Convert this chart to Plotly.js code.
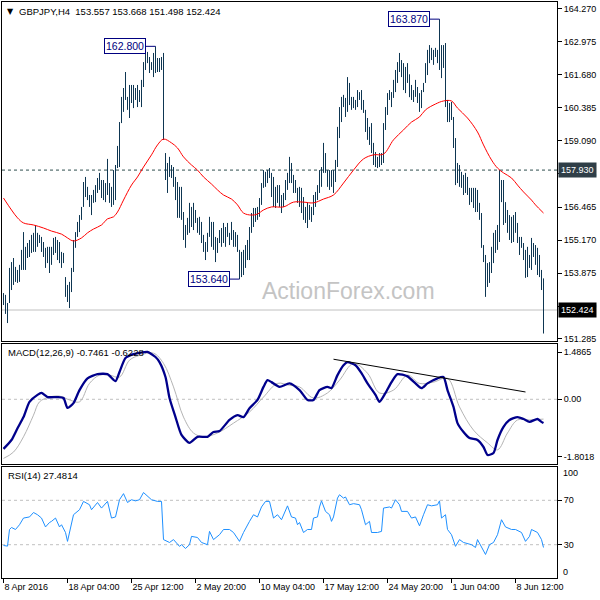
<!DOCTYPE html>
<html><head><meta charset="utf-8">
<script src="https://cdn.plot.ly/plotly-3.0.1.min.js"></script>
<style>html,body{margin:0;padding:0;background:#fff}#chart{width:600px;height:600px}</style>
</head><body><div id="chart"></div>
<script>
// ---- data (GBPJPY H4) ----
const highs = [
153.09,153.02,152.70,154.08,154.31,154.47,154.12,154.00,154.20,154.79,
155.49,154.91,155.06,155.18,155.38,155.46,155.77,155.46,155.38,155.30,
155.10,154.87,154.91,154.91,154.91,155.26,155.30,155.18,155.10,154.71,
154.67,153.72,153.41,153.53,154.08,155.18,155.49,155.89,156.16,156.48,
157.46,157.66,157.27,156.95,156.95,157.15,157.34,157.62,157.82,157.54,
157.54,157.42,158.37,157.42,157.27,157.93,158.13,158.88,159.82,160.81,
161.16,161.79,160.81,161.28,161.28,161.28,161.16,161.28,161.08,161.48,
162.18,162.54,162.58,162.38,162.18,162.54,162.80,162.34,162.34,162.38,
162.54,158.60,158.21,158.45,158.13,158.05,157.66,157.46,157.27,157.27,
156.28,155.77,156.05,156.64,156.48,156.64,156.36,156.05,156.09,155.89,
155.38,155.10,155.46,156.09,155.89,155.89,155.30,155.26,155.57,155.65,
155.85,155.69,155.85,155.46,155.89,155.57,155.49,155.38,154.79,154.71,
154.79,154.98,155.18,155.69,156.24,156.44,156.44,156.48,156.83,157.42,
157.93,157.86,157.93,158.01,157.82,157.66,157.27,157.34,157.34,156.95,
157.03,157.54,157.82,158.45,158.21,157.74,157.54,157.23,157.27,157.23,
156.87,156.48,156.64,156.56,156.48,156.95,157.07,157.34,157.93,158.05,
159.00,158.60,157.93,157.93,157.93,157.93,158.33,159.63,160.41,160.81,
160.89,160.77,161.59,161.36,160.81,160.81,160.69,161.08,161.00,161.08,
160.69,160.30,159.98,159.63,159.78,159.00,158.64,158.45,158.60,158.60,
159.78,160.41,160.96,161.08,161.00,161.48,161.87,162.18,162.54,162.26,
162.14,161.99,162.14,161.70,161.28,161.08,161.48,161.20,160.96,161.08,
161.36,162.14,162.66,162.85,162.74,162.66,162.74,162.66,163.87,162.85,
162.85,162.93,160.69,160.57,160.61,160.02,159.19,158.21,158.13,157.86,
157.74,157.82,157.66,157.23,157.23,157.23,157.23,157.15,156.64,156.24,
154.98,154.59,154.27,154.31,154.91,155.46,155.57,155.77,157.93,157.54,
157.54,156.67,156.36,156.16,156.09,156.16,156.28,155.85,155.30,155.30,
155.06,154.79,154.91,154.59,155.26,155.06,154.98,154.87,154.59,154.00,
153.668];
const lows = [
152.62,152.27,151.91,152.70,153.21,153.41,153.53,153.49,153.53,154.00,
154.00,154.00,154.47,154.51,154.67,154.71,154.71,154.91,155.06,154.71,
154.51,154.08,154.27,153.88,154.20,154.59,154.67,154.39,154.27,154.08,
154.27,152.94,152.74,152.50,153.13,153.92,154.87,155.30,155.49,155.97,
156.48,156.87,156.75,156.48,156.16,156.64,156.67,157.03,157.15,156.83,
156.75,156.67,156.95,156.64,156.48,156.56,156.75,158.01,158.05,159.78,
160.22,160.69,160.30,159.98,160.57,160.37,160.69,160.41,160.61,160.41,
161.20,161.87,162.14,161.75,161.87,161.59,161.75,161.79,161.79,161.87,
159.12,157.54,157.03,157.66,157.62,157.27,156.75,156.05,156.05,155.97,
155.18,154.87,155.38,155.46,155.69,155.57,155.85,155.46,155.38,155.06,
154.71,154.39,154.71,155.30,154.91,154.79,154.31,154.67,155.06,154.91,
155.06,154.91,155.30,154.98,155.18,154.91,154.91,154.71,153.64,153.72,
153.80,154.08,154.39,154.39,155.46,155.69,155.89,155.97,156.09,156.56,
157.23,157.27,157.42,157.62,156.87,156.48,156.44,156.64,156.48,156.24,
156.48,156.75,157.15,157.42,157.42,157.03,157.03,156.64,156.48,156.24,
155.97,155.85,155.65,155.97,155.89,156.16,156.48,156.75,157.03,157.27,
157.82,157.82,157.27,157.15,157.27,157.03,157.46,158.05,159.19,159.82,
160.41,160.02,160.22,160.49,160.30,160.37,160.30,160.41,160.69,160.30,
160.18,159.43,159.12,158.92,158.60,158.13,158.05,158.01,158.05,158.13,
158.21,159.51,160.10,160.69,160.41,160.77,161.00,161.36,161.79,161.59,
161.08,160.96,161.36,160.80,160.69,160.61,160.81,160.57,160.22,160.37,
161.00,161.36,161.67,162.14,162.26,162.07,162.38,162.14,161.87,161.55,
161.95,160.41,159.82,159.82,159.90,158.80,157.34,157.42,157.27,157.23,
156.95,157.03,156.95,156.56,156.67,156.44,156.28,156.28,155.97,154.87,
154.31,152.94,153.33,153.49,153.88,154.27,154.67,154.79,155.10,156.67,
155.77,155.85,155.46,155.18,155.06,155.10,155.46,155.06,154.59,154.87,
154.39,153.69,153.72,154.08,154.00,154.51,154.20,153.80,153.72,153.21,
151.498];

const maIdx  = [0,4,7,10,15,20,24,29,32,35,39,42,45,49,52,55,57,60,64,67,70,74,77,80,84,87,90,94,97,100,104,107,110,114,117,120,124,127,130,134,140,145,150,155,160,165,170,175,180,185,190,195,200,204,208,211,216,220,224,227,232,237,240,244,247,250,254,257,260,264,266,270];
const maVals = [156.83,156.36,156.05,155.85,155.77,155.65,155.53,155.41,155.26,155.14,155.26,155.46,155.61,155.77,156.01,156.09,156.28,156.75,157.34,157.66,158.05,158.53,158.92,159.15,159.00,158.80,158.45,158.13,157.93,157.66,157.38,157.15,156.95,156.79,156.56,156.24,156.16,156.20,156.36,156.48,156.48,156.67,156.67,156.64,156.79,156.95,157.42,157.93,158.37,158.53,158.56,159.12,159.51,159.82,160.02,160.30,160.53,160.65,160.65,160.37,159.98,159.43,158.92,158.33,158.01,157.82,157.62,157.34,157.07,156.75,156.56,156.24];

const macdIdx  = [0,4,7,10,13,17,19,22,27,30,32,35,38,42,47,52,56,58,61,65,68,72,76,78,81,83,86,89,93,97,102,105,108,113,117,120,123,127,130,132,134,138,143,148,152,155,158,162,164,167,170,172,176,179,182,186,188,191,194,197,202,206,209,212,217,220,222,225,227,230,233,237,240,242,245,247,250,253,257,260,263,267,269,270];
const macdVals = [-1.56,-1.28,-0.91,-0.56,-0.08,0.14,0.20,0.07,0.07,0.04,-0.27,-0.12,0.29,0.66,0.79,0.79,0.57,0.86,1.30,1.42,1.46,1.49,1.33,1.17,0.70,0.04,-0.56,-1.12,-1.37,-1.18,-1.18,-1.03,-1.00,-0.65,-0.50,-0.56,-0.28,-0.02,0.39,0.60,0.54,0.39,0.50,0.29,-0.02,-0.02,0.29,0.39,0.35,0.76,1.07,1.17,1.07,0.82,0.50,0.14,-0.08,0.20,0.54,0.79,0.72,0.50,0.35,0.50,0.66,0.70,0.29,-0.24,-0.75,-1.03,-1.22,-1.28,-1.50,-1.75,-1.69,-1.28,-0.87,-0.65,-0.56,-0.62,-0.71,-0.62,-0.71,-0.7461];

const sigIdx  = [0,5,10,15,18,23,28,33,38,43,48,53,58,63,68,75,80,85,90,95,100,107,115,123,130,137,143,148,155,162,168,175,182,188,195,202,208,215,222,228,235,242,247,252,257,263,270];
const sigVals = [-1.86,-1.66,-1.18,-0.50,-0.08,0.07,0.10,-0.02,-0.08,0.50,0.76,0.76,0.70,1.23,1.38,1.45,1.13,0.39,-0.56,-1.06,-1.18,-1.06,-0.75,-0.40,0.07,0.50,0.44,0.39,0.04,0.20,0.60,1.13,0.82,0.20,0.29,0.76,0.50,0.54,0.66,-0.24,-0.97,-1.37,-1.59,-1.06,-0.65,-0.65,-0.6228];

const rsiIdx  = [0,2,3,4,6,8,10,13,15,17,19,21,23,24,26,28,29,31,32,33,35,38,40,43,44,47,49,52,54,56,58,60,62,64,66,68,70,74,77,79,80,83,85,88,89,91,93,94,97,99,102,103,105,108,110,113,115,118,120,123,125,127,129,131,133,135,137,139,140,142,144,146,147,148,150,152,154,155,157,158,159,161,163,164,165,167,168,170,171,173,175,178,179,181,183,184,187,189,190,193,194,196,198,199,202,204,206,208,210,212,214,217,218,219,221,222,224,226,228,230,234,236,237,239,241,243,245,247,249,251,254,256,259,261,263,264,267,269,270];
const rsiVals = [29.3,28.7,43.7,45.5,43.7,48,54,55,59,57,54,46,50,51,54,46,48,41,33,42,57,61.5,69,66,61.5,68,63,69,54,55,70.5,76,68,70.5,69.5,70.5,77,70.5,69,69,34.6,32,34.6,28.5,30,26.6,30,37.5,36.5,32,30,42,34.6,39,43.7,43.7,41,33,41,51,57,55,64,69,69,54,57,52.5,57,65,55,54,48,50,41,43.7,43.7,54,55,64,69.5,60,57,51,55,72,75,72,73,66,67,66,61.5,48,51,41,41,42,63,64,63,70.5,66,60,60,54,55,47,57,66,65,66,69.5,54,57,43.7,39,28.5,34.6,32,30,27.5,34.6,27.5,21.2,30,32,39,52.5,46,43.7,43.7,41,33,37.5,43.7,41,34.6,27.4814];

const trendIdx  = [165, 261];
const trendVals = [1.26, 0.23];

const priceTicks = [164.270,162.975,161.680,160.385,159.090,157.795,156.465,155.170,153.875,152.580,151.285];
const macdTicks = [1.4865, 0, -1.8018];
const macdTickText = ['1.4865','0.00','-1.8018'];
const rsiTicks = [30, 70];
const rsiEdgeLabels = ['100', '0'];
const dateTickIdx = [0,32,64,96,128,160,192,224,256];
const dateTickLabels = ['8 Apr 2016','18 Apr 04:00','25 Apr 12:00','2 May 20:00','10 May 04:00','17 May 12:00','24 May 20:00','1 Jun 04:00','8 Jun 12:00'];
const swingIdx  = [76, 218, 118];
const swingVals = [162.800, 163.870, 153.640];
const levelPrice = 157.930;
const lastPrice = 152.424;
const headerText = 'GBPJPY,H4  153.557 153.668 151.498 152.424';
const macdText = 'MACD(12,26,9) -0.7461 -0.6228';
const rsiText = 'RSI(14) 27.4814';

// ---- build ----
const bx = [], by = [];
highs.forEach((h, i) => { bx.push(i, i, null); by.push(lows[i], h, null); });

const traces = [
  {type:'scatter', mode:'lines', x:bx, y:by, xaxis:'x', yaxis:'y', line:{color:'#0e3652', width:1}, hoverinfo:'skip', connectgaps:false},
  {type:'scatter', mode:'lines', x:maIdx, y:maVals, xaxis:'x', yaxis:'y', line:{color:'#ff0000', width:1, shape:'spline'}},
  {type:'scatter', mode:'lines', x:sigIdx, y:sigVals, xaxis:'x2', yaxis:'y2', line:{color:'#b4b4b4', width:1, shape:'spline'}},
  {type:'scatter', mode:'lines', x:macdIdx, y:macdVals, xaxis:'x2', yaxis:'y2', line:{color:'#00008b', width:2.3, shape:'spline', smoothing:0.6}},
  {type:'scatter', mode:'lines', x:trendIdx, y:trendVals, xaxis:'x2', yaxis:'y2', line:{color:'#000', width:1}},
  {type:'scatter', mode:'lines', x:rsiIdx, y:rsiVals, xaxis:'x3', yaxis:'y3', line:{color:'#1e90ff', width:1}}
];

const F = 'Liberation Sans, Arial, sans-serif';
const xBase = {showgrid:false, zeroline:false, showline:true, mirror:true, linecolor:'#000', linewidth:1, showticklabels:false, ticks:''};
const yBase = {showgrid:false, zeroline:false, showline:true, mirror:true, linecolor:'#000', linewidth:1, side:'right', ticks:'outside', ticklen:4, tickcolor:'#000', tickfont:{family:F, size:9, color:'#000'}, fixedrange:true};

const P = (px, py) => ({xref:'paper', yref:'paper', x:(px - 2) / 555, y:(578 - py) / 576});

const annotations = [
  Object.assign(P(5, 11), {text:'▼', showarrow:false, xanchor:'left', yanchor:'middle', font:{family:'DejaVu Sans, sans-serif', size:8, color:'#000'}}),
  Object.assign(P(17, 11), {text:headerText, showarrow:false, xanchor:'left', yanchor:'middle', font:{family:F, size:9.5, color:'#000'}}),
  Object.assign(P(6, 352), {text:macdText, showarrow:false, xanchor:'left', yanchor:'middle', font:{family:F, size:9.5, color:'#000'}}),
  Object.assign(P(6, 475), {text:rsiText, showarrow:false, xanchor:'left', yanchor:'middle', font:{family:F, size:9.5, color:'#000'}}),
  Object.assign(P(348, 291), {text:'ActionForex.com', showarrow:false, xanchor:'center', yanchor:'middle', font:{family:F, size:23, color:'#c4c4c4'}}),
  Object.assign(P(561, 473), {text:rsiEdgeLabels[0], showarrow:false, xanchor:'left', yanchor:'middle', font:{family:F, size:9, color:'#000'}}),
  Object.assign(P(561, 572), {text:rsiEdgeLabels[1], showarrow:false, xanchor:'left', yanchor:'middle', font:{family:F, size:9, color:'#000'}}),
  {xref:'paper', yref:'y', x:1, y:levelPrice, xanchor:'left', yanchor:'middle', xshift:1, text:levelPrice.toFixed(3), showarrow:false, bgcolor:'#2f3e47', borderpad:2, font:{family:F, size:9, color:'#fff'}},
  {xref:'paper', yref:'y', x:1, y:lastPrice, xanchor:'left', yanchor:'middle', xshift:1, text:lastPrice.toFixed(3), showarrow:false, bgcolor:'#000', borderpad:2, font:{family:F, size:9, color:'#fff'}}
];
swingIdx.forEach((ix, k) => {
  annotations.push({xref:'x', yref:'y', x:ix, y:swingVals[k], text:swingVals[k].toFixed(3), showarrow:true, arrowhead:0, arrowwidth:1, arrowcolor:'#000080', ax:-31, ay:0, standoff:0, bordercolor:'#000080', borderwidth:1, borderpad:1, bgcolor:'#fff', font:{family:F, size:10.5, color:'#000080'}});
});

const shapes = [
  {type:'line', xref:'paper', yref:'y', x0:0, x1:1, y0:levelPrice, y1:levelPrice, line:{color:'#2f4f4f', width:1, dash:'3px,3px'}, layer:'below'},
  {type:'line', xref:'paper', yref:'y', x0:0, x1:1, y0:lastPrice, y1:lastPrice, line:{color:'#c0c0c0', width:1}, layer:'below'},
  {type:'line', xref:'paper', yref:'y2', x0:0, x1:1, y0:0, y1:0, line:{color:'#c0c0c0', width:1, dash:'3px,3px'}, layer:'below'},
  {type:'line', xref:'paper', yref:'y3', x0:0, x1:1, y0:30, y1:30, line:{color:'#c0c0c0', width:1, dash:'3px,3px'}, layer:'below'},
  {type:'line', xref:'paper', yref:'y3', x0:0, x1:1, y0:70, y1:70, line:{color:'#c0c0c0', width:1, dash:'3px,3px'}, layer:'below'}
];

const layout = {
  width:600, height:600,
  margin:{l:2, r:43, t:2, b:22, pad:0},
  paper_bgcolor:'#fff', plot_bgcolor:'#fff',
  showlegend:false, hovermode:false,
  font:{family:F, size:9, color:'#000'},
  xaxis: Object.assign({}, xBase, {domain:[0,1], range:[-0.75, 276.75], anchor:'y'}),
  xaxis2: Object.assign({}, xBase, {domain:[0,1], matches:'x', anchor:'y2'}),
  xaxis3: Object.assign({}, xBase, {domain:[0,1], matches:'x', anchor:'y3', showticklabels:true, ticks:'outside', ticklen:4, tickcolor:'#000', tickvals:dateTickIdx, ticktext:dateTickLabels, ticklabelposition:'outside right', tickfont:{family:F, size:9, color:'#000'}}),
  yaxis: Object.assign({}, yBase, {domain:[0.41146, 1], range:[151.204, 164.545], anchor:'x', tickvals:priceTicks, ticktext:priceTicks.map(v => v.toFixed(3))}),
  yaxis2: Object.assign({}, yBase, {domain:[0.19792, 0.40625], range:[-2.035, 1.739], anchor:'x2', tickvals:macdTicks, ticktext:macdTickText}),
  yaxis3: Object.assign({}, yBase, {domain:[0, 0.19271], range:[0, 100], anchor:'x3', tickvals:rsiTicks, ticktext:rsiTicks.map(String)}),
  annotations: annotations,
  shapes: shapes
};

Plotly.newPlot('chart', traces, layout, {staticPlot:true, displayModeBar:false});
</script>
</body></html>
